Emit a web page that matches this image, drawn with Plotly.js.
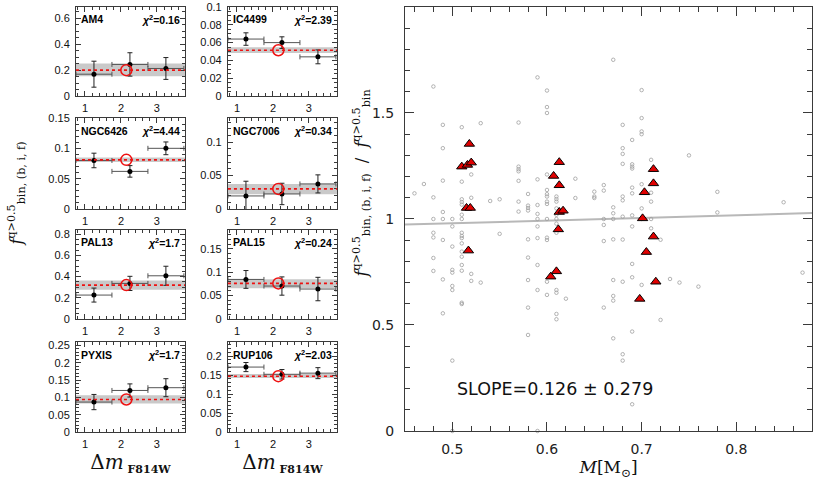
<!DOCTYPE html>
<html>
<head>
<meta charset="utf-8">
<script src="https://cdn.plot.ly/plotly-3.0.1.min.js"></script>
<style>html,body{margin:0;padding:0;background:#fff;}</style>
</head>
<body>
<div id="chart" style="width:817px;height:483px;"></div>
<script>
// ---- left panels: binary fraction per Delta m bin ----
const clusterNames = ['AM4','IC4499','NGC6426','NGC7006','PAL13','PAL15','PYXIS','RUP106'];
const chi2Values = ['0.16','2.39','4.44','0.34','1.7','0.24','1.7','2.03'];
const binCenters = [1.25, 2.25, 3.25];
const binHalfWidth = [0.5, 0.5, 0.5];

const am4Frac = [0.168, 0.243, 0.212];      const am4Err = [0.10, 0.09, 0.084];
const ic4499Frac = [0.064, 0.060, 0.044];   const ic4499Err = [0.007, 0.0065, 0.0078];
const ngc6426Frac = [0.080, 0.062, 0.100];  const ngc6426Err = [0.012, 0.0095, 0.0105];
const ngc7006Frac = [0.0195, 0.0225, 0.0375]; const ngc7006Err = [0.022, 0.016, 0.0135];
const pal13Frac = [0.226, 0.336, 0.408];    const pal13Err = [0.066, 0.067, 0.090];
const pal15Frac = [0.0845, 0.0704, 0.064];  const pal15Err = [0.019, 0.0195, 0.025];
const pyxisFrac = [0.0865, 0.120, 0.128];   const pyxisErr = [0.022, 0.019, 0.026];
const rup106Frac = [0.171, 0.152, 0.155];   const rup106Err = [0.012, 0.0125, 0.0145];

const meanFrac = [0.199, 0.0514, 0.081, 0.030, 0.320, 0.076, 0.094, 0.147];
const bandLow  = [0.153, 0.0483, 0.0775, 0.022, 0.276, 0.0655, 0.082, 0.142];
const bandHigh = [0.251, 0.0548, 0.085, 0.0375, 0.364, 0.085, 0.106, 0.153];
const meanX = [2.15];

const yTop   = [0.685, 0.1, 0.15, 0.136, 0.84, 0.19, 0.26, 0.237];
const yDtick = [0.2, 0.02, 0.05, 0.05, 0.2, 0.05, 0.05, 0.05];
const yMinor = [0.05, 0.005, 0.01, 0.01, 0.05, 0.01, 0.01, 0.01];

const fracs = [am4Frac, ic4499Frac, ngc6426Frac, ngc7006Frac, pal13Frac, pal15Frac, pyxisFrac, rup106Frac];
const errs  = [am4Err, ic4499Err, ngc6426Err, ngc7006Err, pal13Err, pal15Err, pyxisErr, rup106Err];

// ---- right panel: ratio vs mass ----
const massGray = [
 0.46, 0.47,
 0.48,0.48,0.48,0.48,0.48,0.48,0.48,
 0.49,0.49,0.49,0.49,0.49,0.49,0.49,0.49,
 0.50,0.50,0.50,0.50,0.50,0.50,0.50,0.50,0.50,
 0.51,0.51,0.51,0.51,0.51,0.51,0.51,0.51,0.51,0.51,0.51,0.51,0.51,0.51,0.51,0.51,0.51,
 0.52,0.52,0.52,0.52,
 0.53,0.53, 0.54, 0.55,0.55,
 0.57,0.57,0.57,0.57,0.57,0.57,0.57,
 0.58,0.58,0.58,0.58,0.58,0.58,0.58,0.58,0.58,
 0.59,0.59,0.59,0.59,0.59,0.59,0.59,0.59,0.59,0.59,
 0.60,0.60,0.60,0.60,0.60,0.60,0.60,0.60,0.60,0.60,0.60,0.60,0.60,0.60,
 0.61,0.61,0.61,0.61,0.61,0.61,0.61,0.61,0.61,0.61,0.61,0.61,
 0.62, 0.63,0.63, 0.65,0.65,0.65,
 0.66,0.66,0.66,0.66,0.66,0.66,
 0.67,0.67,0.67,0.67,0.67,0.67,0.67,0.67,0.67,
 0.68,0.68,0.68,0.68,0.68,0.68,0.68,0.68,0.68,0.68,0.68,
 0.69,0.69,0.69,0.69,0.69,0.69,0.69,0.69,0.69,0.69,0.69,0.69,
 0.70,0.70,0.70,0.70,0.70,0.70,0.70,0.70,
 0.71,0.71,0.71,0.71,0.71,
 0.72,0.72, 0.73, 0.74, 0.75, 0.76, 0.78,0.78, 0.85, 0.87
];
const ratioGray = [
 1.121, 1.165,
 1.625,1.102,1.0,0.935,0.913,0.816,0.755,
 1.444,1.334,1.181,1.033,1.0,0.901,0.715,0.555,
 1.0,0.965,0.87,0.76,0.747,0.684,0.665,0.332,0.0,
 1.433,1.176,1.093,1.080,1.068,1.02,1.0,0.935,0.92,0.91,0.885,0.846,0.822,0.783,0.756,0.605,0.599,
 1.21,1.10,0.741,0.708,
 1.452,0.70, 1.085, 1.093,0.93,
 1.455,1.247,1.235,1.225,1.18,1.082,1.035,
 1.118,1.063,1.052,1.04,0.904,0.818,0.712,0.582,0.453,
 1.668,1.187,1.066,1.024,1.0,0.965,0.91,0.783,0.665,0.0,
 1.606,1.528,1.5,1.21,1.137,1.117,1.106,1.082,1.071,1.0,0.912,0.901,0.704,0.642,
 1.106,1.094,1.082,1.05,1.02,1.0,0.978,0.935,0.665,0.652,0.552,0.527,
 0.624, 1.19,1.099, 1.129,1.106,1.099,
 1.16,1.134,1.0,0.972,0.896,0.582,
 1.751,1.055,1.027,1.0,0.904,0.712,0.637,0.615,0.437,
 1.444,1.334,1.307,1.26,1.106,1.088,1.011,0.903,0.704,0.362,0.332,
 1.373,1.258,1.247,1.238,1.148,1.121,1.017,0.965,0.788,0.725,0.469,0.126,
 1.608,1.476,1.413,1.40,1.164,1.05,1.0,0.689,
 1.279,1.124,1.082,1.0,0.956,
 0.902,0.524, 0.717, 0.70, 1.30, 0.681, 1.128,1.031, 1.079, 0.747
];
const massRed = [0.518,0.510,0.516,0.520,0.515,0.519,0.517,
                 0.613,0.607,0.613,0.613,0.617,0.612,0.604,0.610,
                 0.7125,0.7125,0.703,0.701,0.7125,0.705,0.715,0.698];
const ratioRed = [1.354,1.247,1.255,1.266,1.052,1.052,0.851,
                  1.268,1.203,1.159,1.033,1.039,0.951,0.728,0.753,
                  1.235,1.168,1.126,1.003,0.917,0.844,0.704,0.623];
const fitMass = [0.45, 0.88];
const fitRatio = [0.9735, 1.0277];
const slopeText = 'SLOPE=0.126 \u00b1 0.279';

// ---- layout geometry ----
const colX = [[0.093, 0.2264], [0.279, 0.4125]];
const rowY = [[0.8012, 0.9855], [0.5673, 0.7557], [0.3395, 0.5238], [0.1056, 0.2919]];
const frameColor = '#3a3a3a';
const tickFont = {family: 'Liberation Sans, Arial, sans-serif', size: 11, color: '#111'};

const traces = [];
const shapes = [];
const annotations = [];
const layout = {
  width: 817, height: 483,
  margin: {l: 0, r: 0, t: 0, b: 0},
  paper_bgcolor: '#fff', plot_bgcolor: '#fff',
  showlegend: false,
  font: {family: 'Liberation Sans, Arial, sans-serif', color: '#111'}
};

for (let i = 0; i < 8; i++) {
  const n = i + 1;
  const xa = 'x' + n, ya = 'y' + n;
  const xref = n === 1 ? 'x' : xa, yref = n === 1 ? 'y' : ya;
  const col = i % 2, row = Math.floor(i / 2);
  layout['xaxis' + n] = {
    domain: colX[col], anchor: yref, range: [0.75, 3.78],
    tickmode: 'linear', tick0: 0, dtick: 1,
    ticks: 'inside', ticklen: 5, tickcolor: frameColor,
    minor: {ticks: 'inside', ticklen: 3, dtick: 0.2, tick0: 0, tickcolor: frameColor, showgrid: false},
    mirror: 'allticks', showline: true, linecolor: frameColor, linewidth: 1,
    showgrid: false, zeroline: false, tickfont: tickFont, ticklabelstandoff: 2,
    automargin: false
  };
  if (row === 3) {
    layout['xaxis' + n].title = {
      text: '\u0394<i>m</i><sub><span style="font-size:11px"><b> F814W</b></span></sub>',
      font: {family: 'DejaVu Serif, Liberation Serif, serif', size: 20, color: '#111'},
      standoff: 5
    };
  }
  layout['yaxis' + n] = {
    domain: rowY[row], anchor: xref, range: [0, yTop[i]],
    tickmode: 'linear', tick0: 0, dtick: yDtick[i],
    ticks: 'inside', ticklen: 5, tickcolor: frameColor,
    minor: {ticks: 'inside', ticklen: 3, dtick: yMinor[i], tick0: 0, tickcolor: frameColor, showgrid: false},
    mirror: 'allticks', showline: true, linecolor: frameColor, linewidth: 1,
    showgrid: false, zeroline: false, tickfont: tickFont, ticklabelstandoff: 3,
    automargin: false
  };

  shapes.push({type: 'rect', xref: xref + ' domain', yref: yref, x0: 0, x1: 1,
    y0: bandLow[i], y1: bandHigh[i], fillcolor: '#c9c9c9', line: {width: 0}, layer: 'below'});
  shapes.push({type: 'line', xref: xref + ' domain', yref: yref, x0: 0, x1: 1,
    y0: meanFrac[i], y1: meanFrac[i], line: {color: '#ee1111', width: 1.6, dash: 'dot'}, layer: 'above'});

  traces.push({
    type: 'scatter', mode: 'markers', xaxis: xref, yaxis: yref,
    x: binCenters, y: fracs[i],
    marker: {color: '#000', size: 5},
    error_y: {type: 'data', array: errs[i], color: '#222', thickness: 1, width: 2.5},
    error_x: {type: 'data', array: binHalfWidth, color: '#555', thickness: 1, width: 2.5},
    cliponaxis: true, hoverinfo: 'skip'
  });
  traces.push({
    type: 'scatter', mode: 'markers', xaxis: xref, yaxis: yref,
    x: meanX, y: [meanFrac[i]],
    marker: {symbol: 'circle-open', color: '#ee1111', size: 11, line: {width: 1.5, color: '#ee1111'}},
    hoverinfo: 'skip'
  });

  annotations.push({xref: xref + ' domain', yref: yref + ' domain', x: 0.03, y: 0.86,
    xanchor: 'left', yanchor: 'middle', showarrow: false, text: '<b>' + clusterNames[i] + '</b>',
    font: {family: 'Liberation Sans, Arial, sans-serif', size: 10.5, color: '#000'}});
  annotations.push({xref: xref + ' domain', yref: yref + ' domain', x: 0.97, y: 0.86,
    xanchor: 'right', yanchor: 'middle', showarrow: false,
    text: '<b><i>\u03c7</i><sup>2</sup>=' + chi2Values[i] + '</b>',
    font: {family: 'Liberation Sans, Arial, sans-serif', size: 10.5, color: '#000'}});
}

// main panel
layout.xaxis9 = {
  domain: [0.4957, 0.9939], anchor: 'y9', range: [0.45, 0.88],
  tickmode: 'linear', tick0: 0, dtick: 0.1,
  ticks: 'inside', ticklen: 9, tickcolor: frameColor,
  minor: {ticks: 'inside', ticklen: 5, dtick: 0.02, tick0: 0, tickcolor: frameColor, showgrid: false},
  mirror: 'allticks', showline: true, linecolor: frameColor, linewidth: 1,
  showgrid: false, zeroline: false, ticklabelstandoff: 5,
  tickfont: {family: 'DejaVu Sans, sans-serif', size: 14, color: '#222'},
  title: {text: '<i>M</i>[M<sub>\u2299</sub>]', font: {family: 'DejaVu Serif, serif', size: 17, color: '#111'}, standoff: 5},
  automargin: false
};
layout.yaxis9 = {
  domain: [0.1077, 0.9855], anchor: 'x9', range: [0, 2],
  tickmode: 'linear', tick0: 0, dtick: 0.5,
  ticks: 'inside', ticklen: 9, tickcolor: frameColor,
  minor: {ticks: 'inside', ticklen: 5, dtick: 0.1, tick0: 0, tickcolor: frameColor, showgrid: false},
  mirror: 'allticks', showline: true, linecolor: frameColor, linewidth: 1,
  showgrid: false, zeroline: false, ticklabelstandoff: 7,
  tickfont: {family: 'DejaVu Sans, sans-serif', size: 14, color: '#222'},
  automargin: false
};

traces.push({type: 'scatter', mode: 'lines', xaxis: 'x9', yaxis: 'y9', x: fitMass, y: fitRatio,
  line: {color: '#b8b8b8', width: 2}, hoverinfo: 'skip'});
traces.push({type: 'scatter', mode: 'markers', xaxis: 'x9', yaxis: 'y9', x: massGray, y: ratioGray,
  marker: {symbol: 'circle-open', size: 3.5, color: '#a0a0a0', line: {width: 0.8, color: '#a0a0a0'}},
  cliponaxis: false, hoverinfo: 'skip'});
traces.push({type: 'scatter', mode: 'markers', xaxis: 'x9', yaxis: 'y9', x: massRed, y: ratioRed,
  marker: {symbol: 'triangle-up', size: 9, color: '#e00000', line: {width: 1, color: '#000'}},
  hoverinfo: 'skip'});

annotations.push({xref: 'paper', yref: 'paper', x: 0.679, y: 0.1946, xanchor: 'center', yanchor: 'middle',
  showarrow: false, text: slopeText, font: {family: 'DejaVu Sans, sans-serif', size: 17.5, color: '#111'}});

// y-axis titles
annotations.push({xref: 'paper', yref: 'paper', x: 0.02, y: 0.6, xanchor: 'center', yanchor: 'middle',
  showarrow: false, textangle: -90,
  text: '<i>f</i><sup>q&gt;0.5</sup><sub>bin, (b, i, f)</sub>',
  font: {family: 'DejaVu Serif, serif', size: 16, color: '#111'}});
annotations.push({xref: 'paper', yref: 'paper', x: 0.443, y: 0.62, xanchor: 'center', yanchor: 'middle',
  showarrow: false, textangle: -90,
  text: '<i>f</i><sup>q&gt;0.5</sup><sub>bin, (b, i, f)</sub>  /  <i>f</i><sup>q&gt;0.5</sup><sub>bin</sub>',
  font: {family: 'DejaVu Serif, serif', size: 16, color: '#111'}});

layout.shapes = shapes;
layout.annotations = annotations;

Plotly.newPlot('chart', traces, layout, {staticPlot: true, displayModeBar: false});
</script>
</body>
</html>
